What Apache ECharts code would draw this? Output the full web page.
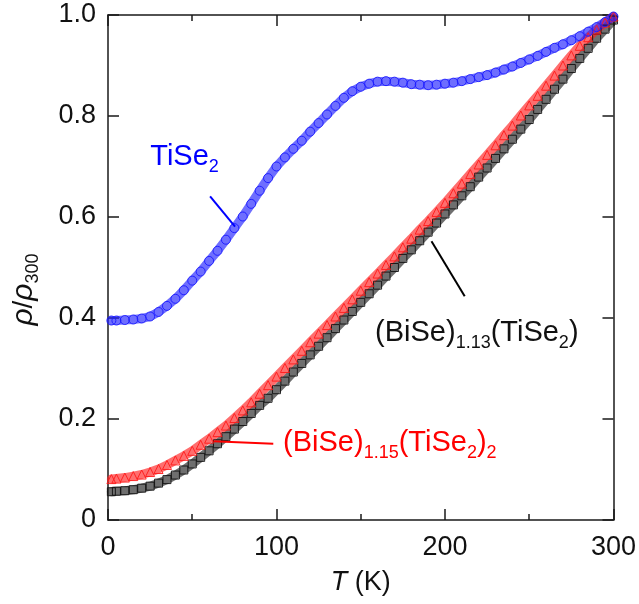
<!DOCTYPE html>
<html>
<head>
<meta charset="utf-8">
<script src="https://cdn.jsdelivr.net/npm/echarts@6/dist/echarts.min.js"></script>
<style>
  html, body { margin: 0; padding: 0; background: #fff; }
  #chart { width: 639px; height: 604px; }
</style>
</head>
<body>
<div id="chart"></div>
<script>
// Temperature grid (K)
const temps = [2, 5, 10, 15, 20, 25, 30, 35, 40, 45, 50, 55, 60, 65, 70, 75, 80, 85, 90, 95,
  100, 105, 110, 115, 120, 125, 130, 135, 140, 145, 150, 155, 160, 165, 170, 175, 180, 185, 190, 195,
  200, 205, 210, 215, 220, 225, 230, 235, 240, 245, 250, 255, 260, 265, 270, 275, 280, 285, 290, 295, 300];

// Normalised resistivity rho/rho300
const tise2 = [0.395, 0.395, 0.396, 0.397, 0.399, 0.403, 0.412, 0.424, 0.438, 0.455, 0.474, 0.492, 0.513, 0.533, 0.555, 0.578, 0.601, 0.626, 0.652, 0.677,
  0.700, 0.718, 0.735, 0.751, 0.769, 0.786, 0.803, 0.820, 0.836, 0.849, 0.858, 0.864, 0.868, 0.869, 0.868, 0.866, 0.863, 0.862, 0.861, 0.862,
  0.864, 0.866, 0.869, 0.873, 0.877, 0.881, 0.886, 0.892, 0.898, 0.905, 0.912, 0.919, 0.927, 0.935, 0.942, 0.950, 0.958, 0.967, 0.976, 0.986, 0.997];

const bise115 = [0.081, 0.082, 0.084, 0.087, 0.090, 0.095, 0.101, 0.109, 0.118, 0.127, 0.137, 0.149, 0.161, 0.174, 0.187, 0.202, 0.217, 0.233, 0.250, 0.267,
  0.284, 0.301, 0.318, 0.335, 0.352, 0.369, 0.386, 0.403, 0.420, 0.437, 0.454, 0.471, 0.488, 0.505, 0.522, 0.540, 0.557, 0.575, 0.592, 0.610,
  0.628, 0.647, 0.666, 0.685, 0.704, 0.723, 0.742, 0.762, 0.781, 0.801, 0.821, 0.840, 0.860, 0.880, 0.900, 0.920, 0.939, 0.956, 0.971, 0.985, 0.997];

const bise113 = [0.056, 0.057, 0.058, 0.060, 0.063, 0.067, 0.073, 0.080, 0.089, 0.099, 0.111, 0.124, 0.137, 0.151, 0.165, 0.180, 0.195, 0.211, 0.227, 0.241,
  0.258, 0.275, 0.293, 0.310, 0.327, 0.344, 0.361, 0.379, 0.396, 0.413, 0.431, 0.448, 0.465, 0.483, 0.500, 0.518, 0.535, 0.553, 0.570, 0.588,
  0.606, 0.624, 0.642, 0.660, 0.679, 0.697, 0.716, 0.735, 0.754, 0.774, 0.793, 0.813, 0.833, 0.853, 0.873, 0.894, 0.914, 0.934, 0.954, 0.972, 0.990];

const xTicks = [0, 100, 200, 300];
const yTickLabels = ['0', '0.2', '0.4', '0.6', '0.8', '1.0'];

const FONT = '"Liberation Sans", Arial, Helvetica, sans-serif';
const AXIS_COLOR = '#1a1a1a';

function pairs(ys) { return temps.map((t, i) => [t, ys[i]]); }

// Rich-text styles for labels with subscripts
function richStyles(color, size, subSize) {
  return {
    m: { fontFamily: FONT, fontSize: size, color: color },
    s: { fontFamily: FONT, fontSize: subSize, color: color, padding: [20, 0, 0, 0] }
  };
}

function pointer(color, from, to) {
  return {
    silent: true,
    symbol: ['none', 'none'],
    animation: false,
    label: { show: false },
    lineStyle: { color: color, width: 2, type: 'solid' },
    data: [[{ coord: from }, { coord: to }]]
  };
}

function tag(color, at, text) {
  return {
    silent: true,
    symbol: 'circle',
    symbolSize: 0,
    animation: false,
    itemStyle: { color: 'transparent' },
    label: {
      show: true,
      position: 'inside',
      align: 'left',
      verticalAlign: 'middle',
      formatter: text,
      rich: richStyles(color, 29, 18)
    },
    data: [{ coord: at }]
  };
}

// Dense measurement trace: a translucent band under hollow markers
function band(ys, color, width) {
  return {
    type: 'line',
    data: pairs(ys),
    showSymbol: false,
    silent: true,
    z: 1,
    lineStyle: { color: color, width: width, opacity: 0.65, cap: 'round', join: 'round' }
  };
}
function markers(name, ys, symbol, size, color) {
  return {
    name: name,
    type: 'scatter',
    data: pairs(ys),
    symbol: symbol,
    symbolSize: size,
    z: 2,
    itemStyle: { color: 'rgba(0,0,0,0)', borderColor: color, borderWidth: 1, opacity: 0.9 }
  };
}

const baseX = {
  type: 'value', min: 0, max: 300, interval: 100,
  axisLine: { show: true, onZero: false, lineStyle: { color: AXIS_COLOR, width: 1.5 } },
  axisTick: { show: true, inside: true, length: 11, lineStyle: { color: AXIS_COLOR, width: 1.5 } },
  minorTick: { show: true, splitNumber: 2, length: 6, lineStyle: { color: AXIS_COLOR, width: 1.5 } },
  splitLine: { show: false }
};
const baseY = {
  type: 'value', min: 0, max: 1, interval: 0.2,
  axisLine: { show: true, onZero: false, lineStyle: { color: AXIS_COLOR, width: 1.5 } },
  axisTick: { show: true, inside: true, length: 11, lineStyle: { color: AXIS_COLOR, width: 1.5 } },
  splitLine: { show: false }
};

const blackSeries = markers('(BiSe)1.13(TiSe2)', bise113, 'rect', 8, '#111');
blackSeries.markLine = pointer('#000', [192, 0.552], [211.7, 0.443]);
blackSeries.markPoint = tag('#111', [158.5, 0.371], '{m|(BiSe)}{s|1.13}{m|(TiSe}{s|2}{m|)}');

const redSeries = markers('(BiSe)1.15(TiSe2)2', bise115, 'triangle', 9, '#ff1a1a');
redSeries.markLine = pointer('#ff0000', [62.6, 0.156], [98.1, 0.151]);
redSeries.markPoint = tag('#ff0000', [103.9, 0.153], '{m|(BiSe)}{s|1.15}{m|(TiSe}{s|2}{m|)}{s|2}');

const blueSeries = markers('TiSe2', tise2, 'circle', 9, '#1a1aff');
blueSeries.markLine = pointer('#0000ff', [60.6, 0.641], [75.4, 0.581]);
blueSeries.markPoint = tag('#0000ff', [25.1, 0.719], '{m|TiSe}{s|2}');

const chart = echarts.init(document.getElementById('chart'), null, { renderer: 'canvas' });
chart.setOption({
  animation: false,
  backgroundColor: '#fff',
  grid: { left: 108, right: 25, top: 15, bottom: 84 },
  xAxis: [
    Object.assign({}, baseX, {
      position: 'bottom',
      axisLabel: { show: true, fontFamily: FONT, fontSize: 27, color: '#111', margin: 14,
        formatter: v => (xTicks.indexOf(v) >= 0 ? String(v) : '') },
      name: '{i|T} (K)',
      nameLocation: 'middle',
      nameGap: 49,
      nameTextStyle: {
        fontFamily: FONT, fontSize: 27, color: '#111',
        rich: { i: { fontFamily: FONT, fontSize: 27, fontStyle: 'italic', color: '#111' } }
      }
    }),
    Object.assign({}, baseX, { position: 'top', axisLabel: { show: false } })
  ],
  yAxis: [
    Object.assign({}, baseY, {
      position: 'left',
      axisLabel: { show: true, fontFamily: FONT, fontSize: 27, color: '#111', margin: 12,
        formatter: v => yTickLabels[Math.round(v / 0.2)] },
      name: '{i|ρ}/{i|ρ}{s|300}',
      nameLocation: 'middle',
      nameRotate: 90,
      nameGap: 66,
      nameTextStyle: {
        fontFamily: FONT, fontSize: 28, color: '#111',
        padding: [0, 44, 0, 0],
        rich: {
          i: { fontFamily: FONT, fontSize: 30, fontStyle: 'italic', color: '#111' },
          s: { fontFamily: FONT, fontSize: 18, color: '#111', padding: [18, 0, 0, 0] }
        }
      }
    }),
    Object.assign({}, baseY, { position: 'right', axisLabel: { show: false } })
  ],
  series: [
    band(bise113, '#222', 9),
    band(bise115, '#ff2020', 9),
    band(tise2, '#2020ff', 9),
    blackSeries,
    redSeries,
    blueSeries
  ]
});
</script>
</body>
</html>
